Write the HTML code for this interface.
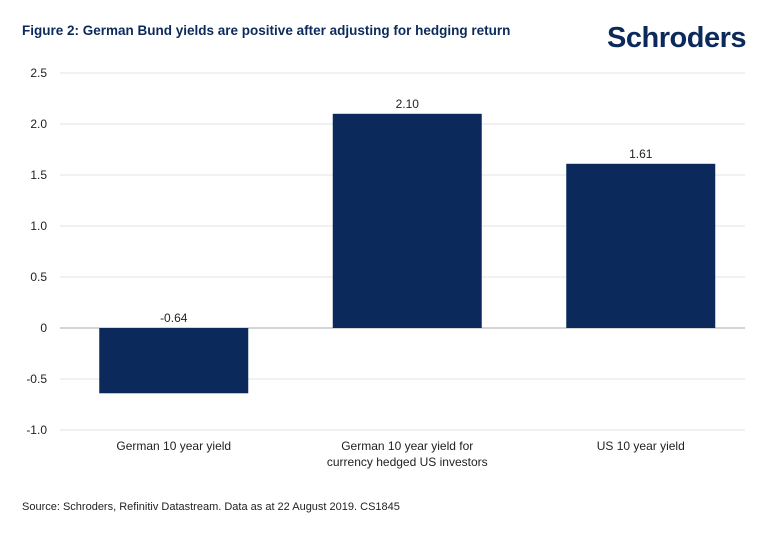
<!DOCTYPE html>
<html><head><meta charset="utf-8"><style>
body{margin:0;background:#fff;width:770px;height:534px;overflow:hidden;font-family:"Liberation Sans",sans-serif}
</style></head><body>
<svg width="770" height="534" id="c" xmlns="http://www.w3.org/2000/svg">
<text x="22" y="35" font-size="13.5" font-weight="bold" fill="#0b2a5b">Figure 2: German Bund yields are positive after adjusting for hedging return</text>
<text x="746" y="47" text-anchor="end" font-size="29" font-weight="bold" fill="#0b2a5b" letter-spacing="-0.5">Schroders</text>
<text x="22" y="510" font-size="11" fill="#222">Source: Schroders, Refinitiv Datastream. Data as at 22 August 2019. CS1845</text>
<g id="grid"></g><g id="bars"></g><g id="labels"></g>
</svg>
<script>
const categories=[["German 10 year yield"],["German 10 year yield for","currency hedged US investors"],["US 10 year yield"]];
const values=[-0.64,2.10,1.61];
const valueLabels=["-0.64","2.10","1.61"];
const ticks=[2.5,2.0,1.5,1.0,0.5,0,-0.5,-1.0];
const tickLabels=["2.5","2.0","1.5","1.0","0.5","0","-0.5","-1.0"];
const NS="http://www.w3.org/2000/svg";
const y=v=>328-v*102;
const x0=57,bw=233.5,barW=149;
const cx=i=>x0+bw*(i+0.5);
function mk(t,a,p){const e=document.createElementNS(NS,t);for(const k in a)e.setAttribute(k,a[k]);document.getElementById(p).appendChild(e);return e;}
ticks.forEach((t,i)=>{
 const l=mk('line',{x1:60,x2:745,y1:y(t),y2:y(t),stroke:t===0?'#aaa':'#e3e3e3','stroke-width':1},'grid');
 
 
 const tx=mk('text',{x:47,y:y(t)+4,'text-anchor':'end','font-size':12,fill:'#222'},'grid');
 tx.textContent=tickLabels[i];
 
 
});
values.forEach((v,i)=>{
 const r=mk('rect',{x:cx(i)-barW/2,y:Math.min(y(v),y(0)),width:barW,height:Math.abs(y(v)-y(0)),fill:'#0b2a5b'},'bars');
 
 
 const t=mk('text',{x:cx(i),y:(v>=0?y(v):y(0))-6,'text-anchor':'middle','font-size':12,fill:'#222'},'labels');
 t.textContent=valueLabels[i];
 
 
 categories[i].forEach((s,j)=>{
  const c=mk('text',{x:cx(i),y:450+j*16,'text-anchor':'middle','font-size':12,fill:'#222'},'labels');
  c.textContent=s;
  
  
 });
});
</script>
</body></html>
